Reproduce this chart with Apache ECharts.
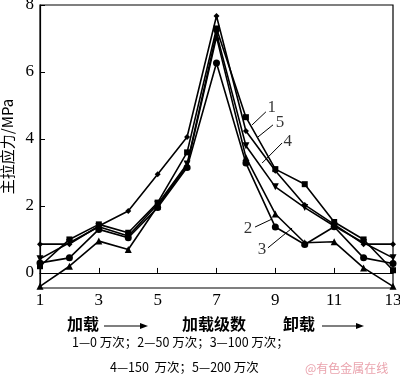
<!DOCTYPE html>
<html><head><meta charset="utf-8">
<script src="https://cdn.jsdelivr.net/npm/echarts@6/dist/echarts.min.js"></script>
<style>html,body{margin:0;padding:0;background:#fff}#c{width:400px;height:381px}</style>
</head><body><div id="c"></div>
<script>
const levels = [1,2,3,4,5,6,7,8,9,10,11,12,13];
const s1 = [0.2, 1.0, 1.45, 1.2, 2.1, 3.6, 7.3, 4.65, 3.1, 2.65, 1.52, 1.0, 0.08];   // 0 万次, square
const s2 = [0.3, 0.45, 1.3, 1.05, 1.95, 3.15, 6.27, 3.28, 1.37, 0.85, 1.38, 0.45, 0.28]; // 50 万次, circle
const s3 = [-0.4, 0.2, 0.95, 0.7, 2.0, 3.2, 7.05, 3.45, 1.76, 0.9, 0.93, 0.15, -0.4]; // 100 万次, triangle
const s4 = [0.42, 0.9, 1.38, 1.1, 2.05, 3.25, 7.15, 3.8, 2.57, 1.95, 1.4, 0.9, 0.45]; // 150 万次, down-triangle
const s5 = [0.86, 0.86, 1.4, 1.85, 2.95, 4.06, 7.67, 4.24, 3.05, 2.03, 1.45, 0.86, 0.86]; // 200 万次, diamond
const yTicks = [0, 2, 4, 6, 8];
const xTicks = [1, 3, 5, 7, 9, 11, 13];
// leader lines for series labels: [label, startX, startY, endX, endY, textX, textY]
const leaders = [
  ['1', 8.21, 4.42, 8.68, 4.81, 8.88, 4.95],
  ['5', 8.41, 4.06, 8.92, 4.42, 9.16, 4.5],
  ['4', 8.55, 3.28, 9.23, 3.88, 9.42, 3.92],
  ['2', 8.89, 1.61, 8.31, 1.37, 8.07, 1.34],
  ['3', 9.57, 1.34, 8.75, 0.75, 8.55, 0.69]
];
const serif = '"Liberation Serif","DejaVu Serif",serif';
const cjk = '"Noto Sans CJK SC","Noto Sans",sans-serif';

function mk(data, symbol, size, rot) {
  return {
    type: 'line', data: levels.map((x, i) => [x, data[i]]),
    symbol: symbol, symbolSize: size, symbolRotate: rot || 0,
    lineStyle: {color: '#000', width: 1.6},
    itemStyle: {color: '#000'}, showAllSymbol: true, silent: true, z: 3
  };
}
const series = [
  mk(s1, 'rect', 6),
  mk(s2, 'circle', 7),
  mk(s3, 'triangle', 7),
  mk(s4, 'triangle', 7, 180),
  mk(s5, 'diamond', 6)
];
leaders.forEach(l => {
  series.push({
    type: 'line', data: [[l[1], l[2]], [l[3], l[4]]], symbol: 'none',
    lineStyle: {color: '#000', width: 1}, silent: true, z: 2
  });
});
series.push({
  type: 'scatter', symbolSize: 0, silent: true,
  data: leaders.map(l => ({value: [l[5], l[6]], name: l[0]})),
  label: {show: true, position: 'inside', formatter: p => p.name,
    fontFamily: serif, fontSize: 17, color: '#000'}
});

const chart = echarts.init(document.getElementById('c'), null, {renderer: 'canvas'});
chart.setOption({
  animation: false,
  grid: {left: 40, right: 7, top: 5, bottom: 93, show: true, borderColor: '#000', borderWidth: 1.2,
    containLabel: false, outerBoundsMode: 'none'},
  xAxis: {
    type: 'value', min: 1, max: 13, interval: 2,
    axisLine: {lineStyle: {color: '#000', width: 1.2}},
    axisTick: {inside: true, length: 5, lineStyle: {color: '#000'}},
    axisLabel: {color: '#000', fontFamily: serif, fontSize: 17, margin: 4},
    splitLine: {show: false}
  },
  yAxis: {
    type: 'value', min: -0.45, max: 8,
    name: '主拉应力/MPa', nameLocation: 'middle', nameGap: 24,
    nameTextStyle: {color: '#000', fontFamily: cjk, fontSize: 15},
    axisLine: {lineStyle: {color: '#000', width: 1.2}},
    axisTick: {inside: true, length: 5, customValues: yTicks, lineStyle: {color: '#000'}},
    axisLabel: {color: '#000', fontFamily: serif, fontSize: 17, margin: 6, customValues: yTicks},
    splitLine: {show: false}
  },
  series: series,
  graphic: [
    {type: 'text', left: 67, top: 316, style: {text: '加载', font: '600 16px ' + cjk, fill: '#000'}},
    {type: 'line', shape: {x1: 104, y1: 326, x2: 144, y2: 326}, style: {stroke: '#000', lineWidth: 1.2}},
    {type: 'polygon', shape: {points: [[140, 323], [148, 326], [140, 329]]}, style: {fill: '#000'}},
    {type: 'text', left: 182, top: 316, style: {text: '加载级数', font: '600 16px ' + cjk, fill: '#000'}},
    {type: 'text', left: 283, top: 316, style: {text: '卸载', font: '600 16px ' + cjk, fill: '#000'}},
    {type: 'line', shape: {x1: 322, y1: 326, x2: 360, y2: 326}, style: {stroke: '#000', lineWidth: 1.2}},
    {type: 'polygon', shape: {points: [[356, 323], [364, 326], [356, 329]]}, style: {fill: '#000'}},
    {type: 'text', left: 72, top: 336, style: {text: '1—0 万次；2—50 万次；3—100 万次；', font: '12.5px ' + cjk, fill: '#000'}},
    {type: 'text', left: 110, top: 361, style: {text: '4—150  万次；5—200 万次', font: '12.5px ' + cjk, fill: '#000'}},
    {type: 'text', left: 305, top: 362, style: {text: '@有色金属在线', font: '12px ' + cjk, fill: '#eaa3ad'}}
  ]
});
</script></body></html>
